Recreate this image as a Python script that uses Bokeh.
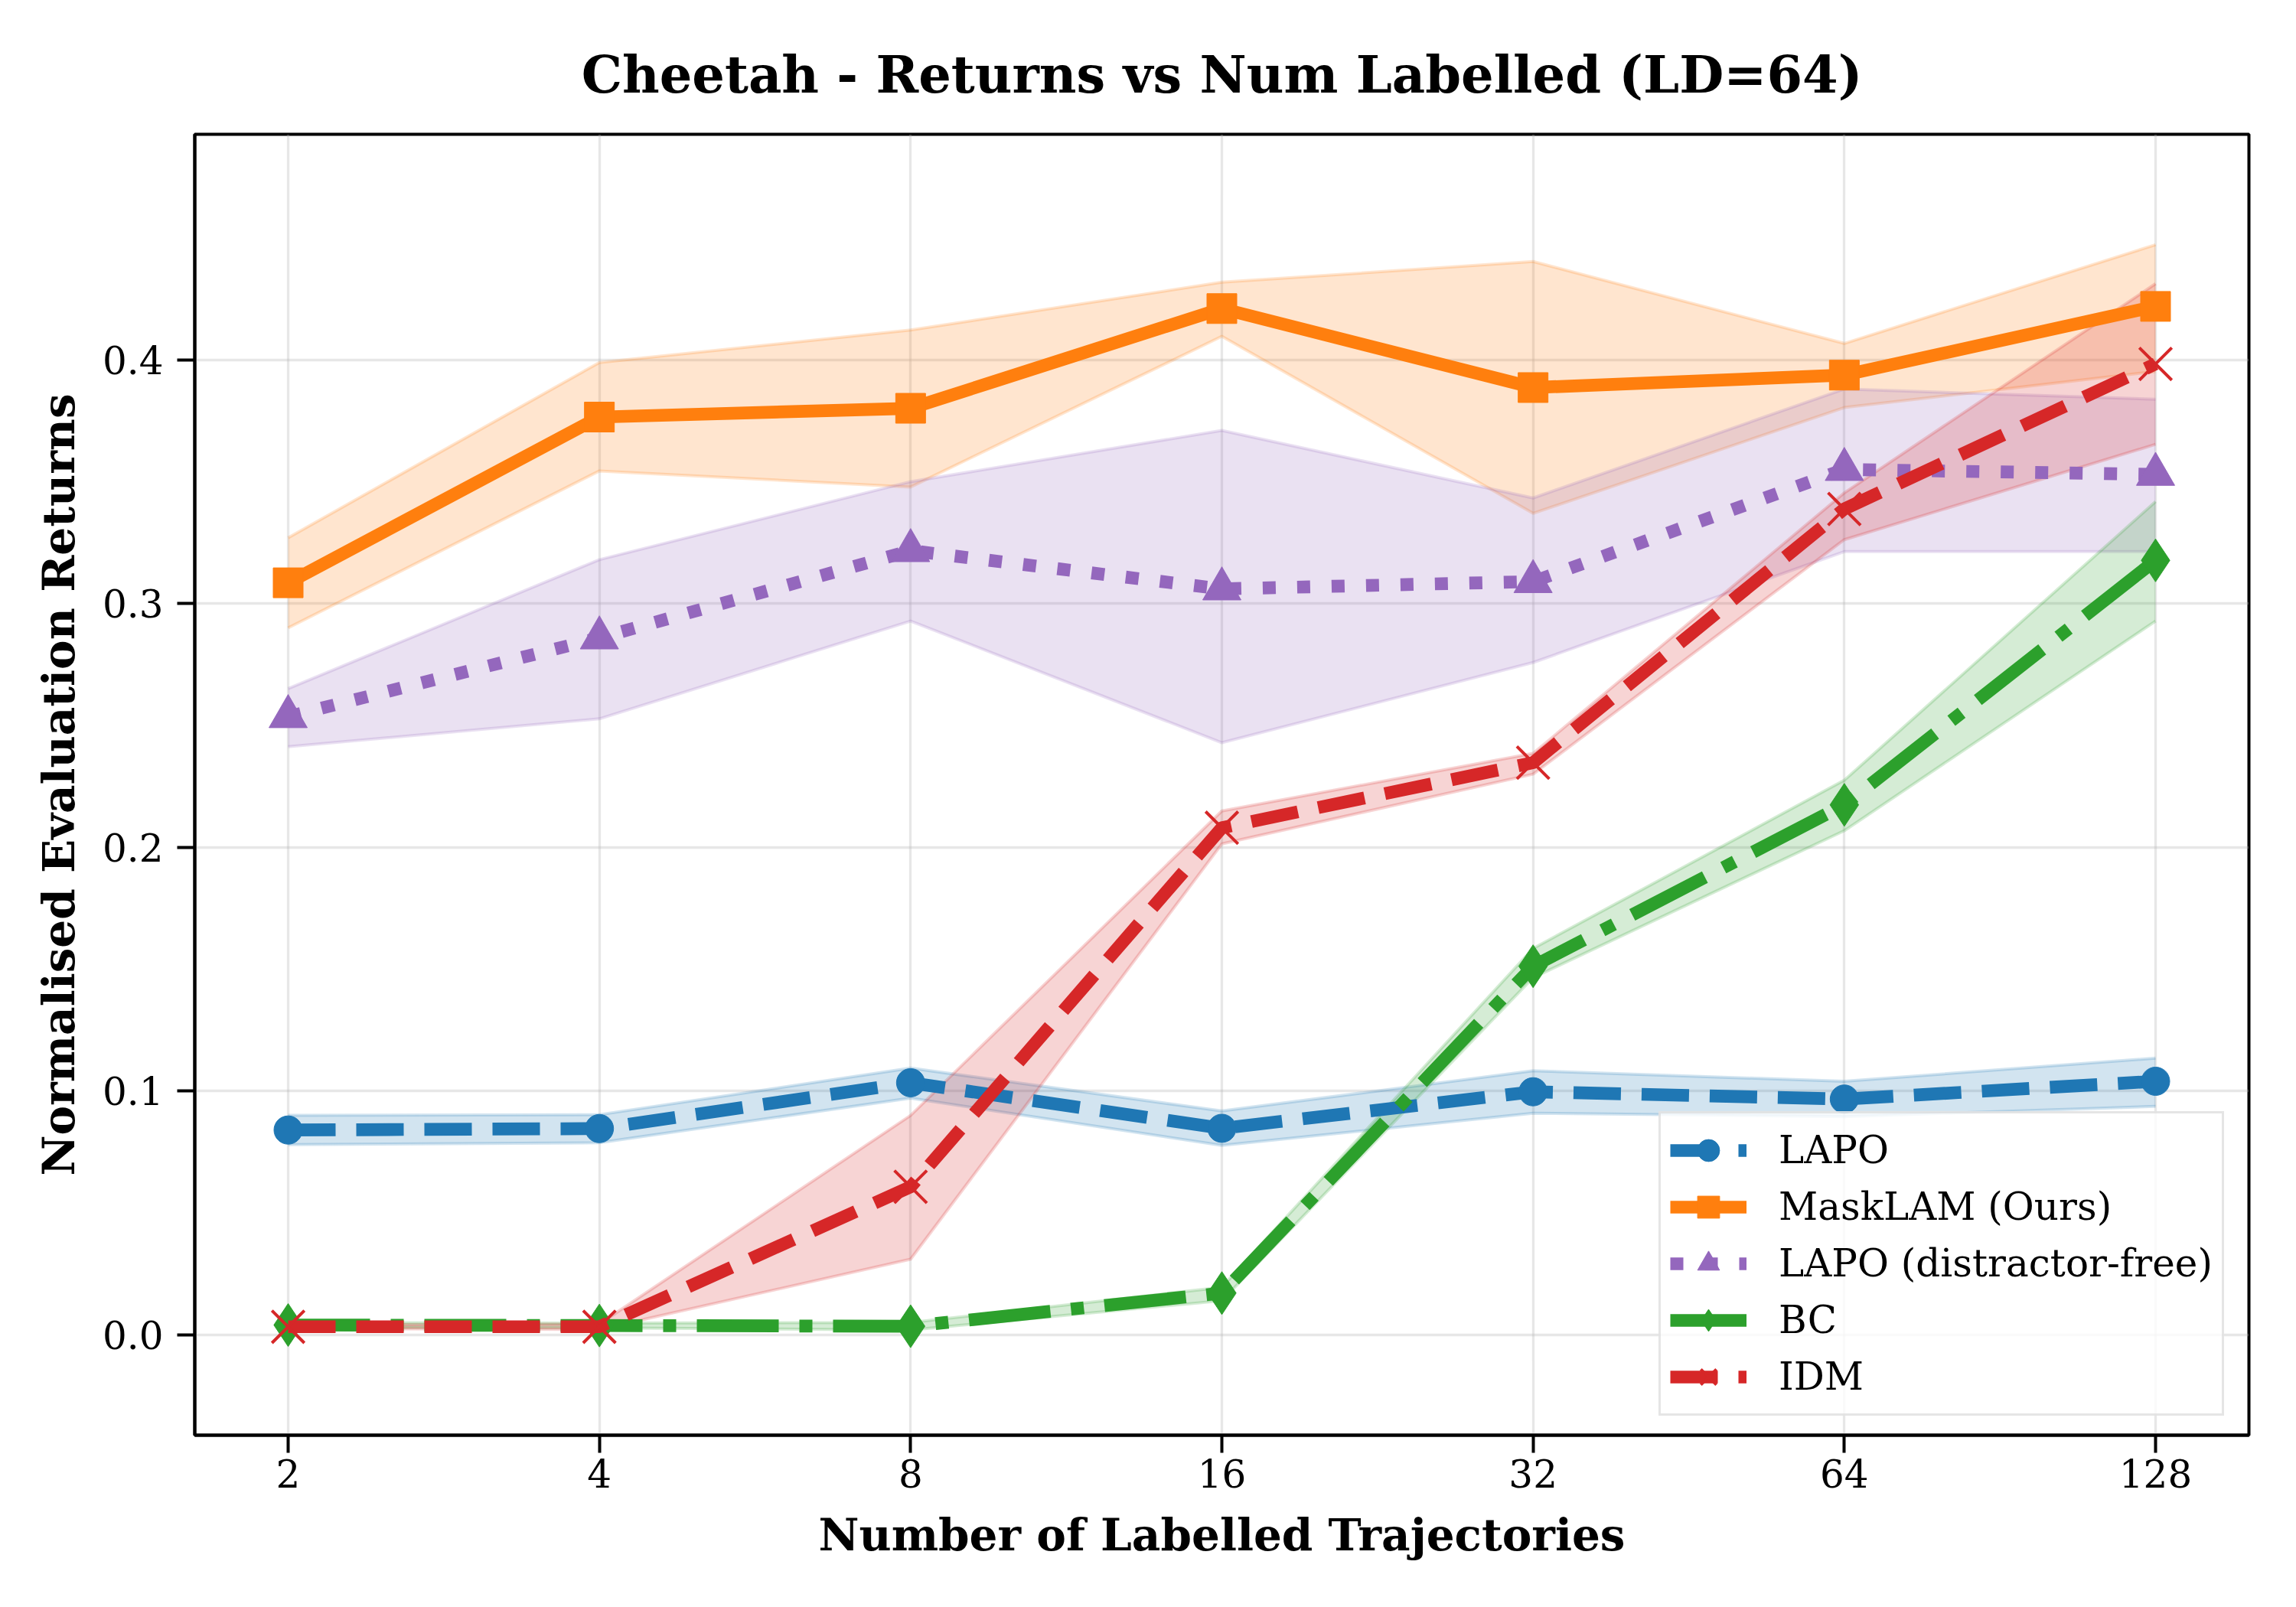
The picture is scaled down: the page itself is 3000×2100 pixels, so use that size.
from bokeh.plotting import figure
from bokeh.models import Range1d, FixedTicker, Legend, LegendItem, PrintfTickFormatter
from bokeh.embed import file_html
from bokeh.resources import INLINE

# ---- data ----
x_vals = [2, 4, 8, 16, 32, 64, 128]
x_labels = ["2", "4", "8", "16", "32", "64", "128"]
y_ticks = [0.0, 0.1, 0.2, 0.3, 0.4]
title_text = "Cheetah - Returns vs Num Labelled (LD=64)"

lapo_mean = [0.0840, 0.0846, 0.1034, 0.0847, 0.0997, 0.0967, 0.1040]
lapo_lo   = [0.0780, 0.0788, 0.0971, 0.0777, 0.0909, 0.0895, 0.0937]
lapo_hi   = [0.0900, 0.0903, 0.1094, 0.0918, 0.1083, 0.1040, 0.1135]

mask_mean = [0.3085, 0.3765, 0.3801, 0.4210, 0.3886, 0.3937, 0.4219]
mask_lo   = [0.2900, 0.3544, 0.3478, 0.4096, 0.3370, 0.3804, 0.3952]
mask_hi   = [0.3270, 0.3989, 0.4122, 0.4318, 0.4403, 0.4067, 0.4472]

lapodf_mean = [0.2536, 0.2859, 0.3217, 0.3060, 0.3090, 0.3550, 0.3530]
lapodf_lo   = [0.2413, 0.2527, 0.2928, 0.2429, 0.2758, 0.3213, 0.3213]
lapodf_hi   = [0.2651, 0.3180, 0.3500, 0.3710, 0.3433, 0.3880, 0.3838]

bc_mean = [0.0040, 0.0038, 0.0035, 0.0171, 0.1512, 0.2174, 0.3177]
bc_lo   = [0.0030, 0.0028, 0.0020, 0.0140, 0.1465, 0.2068, 0.2928]
bc_hi   = [0.0050, 0.0048, 0.0050, 0.0195, 0.1585, 0.2275, 0.3418]

idm_mean = [0.0033, 0.0033, 0.0607, 0.2080, 0.2347, 0.3388, 0.3983]
idm_lo   = [0.0025, 0.0022, 0.0310, 0.2014, 0.2300, 0.3262, 0.3653]
idm_hi   = [0.0041, 0.0044, 0.0900, 0.2149, 0.2385, 0.3454, 0.4312]

series = [
    ("LAPO", lapo_mean, lapo_lo, lapo_hi, "#1f77b4", "62 27", "circle", 37),
    ("MaskLAM (Ours)", mask_mean, mask_lo, mask_hi, "#ff7f0e", "solid", "square", 39),
    ("LAPO (distractor-free)", lapodf_mean, lapodf_lo, lapodf_hi, "#9467bd", "17 28", "triangle", 50),
    ("BC", bc_mean, bc_lo, bc_hi, "#2ca02c", "107 27 17 27", "diamond", 56),
    ("IDM", idm_mean, idm_lo, idm_hi, "#d62728", "62 27", "x", 60),
]

FONT = "DejaVu Serif"

p = figure(
    x_axis_type="log",
    frame_width=2684, frame_height=1700,
    min_border_left=254, min_border_right=46,
    min_border_top=175, min_border_bottom=209,
    x_range=Range1d(2 ** 0.7, 2 ** 7.3),
    y_range=Range1d(-0.0412, 0.4925),
    output_backend="svg", toolbar_location=None,
    title=title_text,
)

p.title.text_font = FONT
p.title.text_font_size = "67px"
p.title.text_font_style = "bold"
p.title.text_color = "black"
p.title.align = "center"
p.title.standoff = 78

p.outline_line_color = "black"
p.outline_line_width = 4
p.outline_line_alpha = 1.0

for g in (p.xgrid, p.ygrid):
    g.grid_line_color = "#b0b0b0"
    g.grid_line_alpha = 0.3
    g.grid_line_width = 3.3

p.xaxis.ticker = FixedTicker(ticks=x_vals, minor_ticks=[])
p.xaxis.major_label_overrides = {v: l for v, l in zip(x_vals, x_labels)}
p.yaxis.ticker = FixedTicker(ticks=y_ticks, minor_ticks=[])
p.yaxis.formatter = PrintfTickFormatter(format="%.1f")

p.xaxis.axis_label = "Number of Labelled Trajectories"
p.yaxis.axis_label = "Normalised Evaluation Returns"

for ax in (p.xaxis, p.yaxis):
    ax.axis_line_width = 4
    ax.axis_line_color = "black"
    ax.major_tick_line_width = 4
    ax.major_tick_out = 23
    ax.major_tick_in = 0
    ax.minor_tick_line_color = None
    ax.major_label_text_font = FONT
    ax.major_label_text_font_size = "50px"
    ax.major_label_text_color = "black"
    ax.axis_label_text_font = FONT
    ax.axis_label_text_font_size = "58px"
    ax.axis_label_text_font_style = "bold"
    ax.axis_label_text_color = "black"

p.xaxis.major_label_standoff = 8
p.yaxis.major_label_standoff = 18
p.xaxis.axis_label_standoff = 25
p.yaxis.axis_label_standoff = 20

# bands first (below all lines)
for name, m, lo, hi, col, dash, mk, sz in series:
    p.varea(x=x_vals, y1=lo, y2=hi, fill_color=col, fill_alpha=0.2)
    p.line(x_vals, lo, line_color=col, line_alpha=0.2, line_width=4)
    p.line(x_vals, hi, line_color=col, line_alpha=0.2, line_width=4)

items = []
for name, m, lo, hi, col, dash, mk, sz in series:
    lr = p.line(x_vals, m, line_color=col, line_width=16.7, line_dash=dash, line_join="round")
    if mk == "x":
        sr = p.scatter(x_vals, m, marker="x", size=sz, line_color=col, line_width=4)
    else:
        sr = p.scatter(x_vals, m, marker=mk, size=sz, fill_color=col, line_color=col, line_width=1)
    items.append(LegendItem(label=name, renderers=[lr, sr]))

legend = Legend(
    items=items,
    location=(1913, 25),
    label_text_font=FONT,
    label_text_font_size="50px",
    label_text_color="black",
    glyph_width=100,
    glyph_height=72,
    label_height=72,
    spacing=2,
    padding=12,
    label_standoff=42,
    border_line_color="#cccccc",
    border_line_width=3,
    background_fill_color="white",
    background_fill_alpha=0.8,
    margin=0,
)
p.add_layout(legend)

open("out.html", "w").write(file_html(p, INLINE))
